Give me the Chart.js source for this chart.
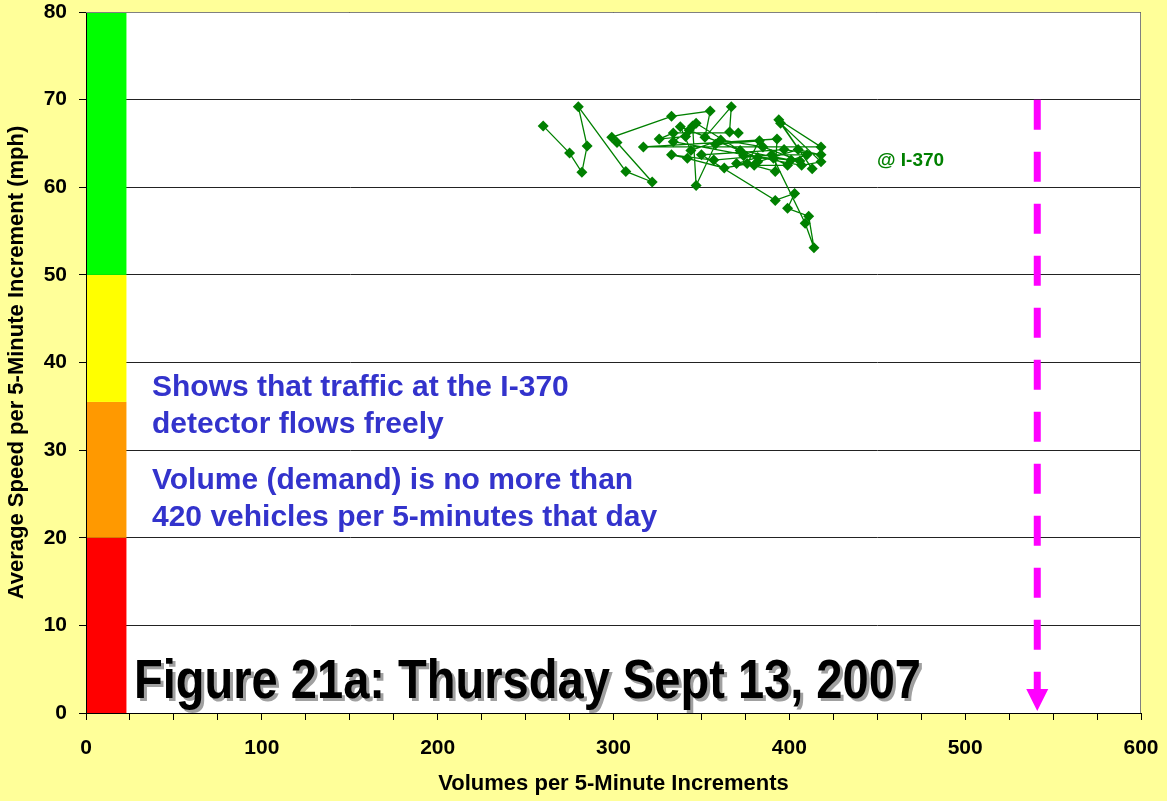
<!DOCTYPE html>
<html>
<head>
<meta charset="utf-8">
<script src="https://cdn.jsdelivr.net/npm/chart.js@4/dist/chart.umd.min.js"></script>
<style>
  html, body { margin:0; padding:0; background:#FFFF99; }
  #wrap { width:1167px; height:801px; position:relative; }
</style>
</head>
<body>
<div id="wrap"><canvas id="chart" width="1167" height="801"></canvas></div>
<script>
// volume / speed readings at the I-370 detector (5-minute increments)
const volumes = [260,275,282,285,280,307,322,302,299,333,355,352,367,366,371,334,326,341,345,347,
  358,383,376,392,393,317,418,394,413,395,418,407,334,343,347,372,401,410,390,357,
  333,342,363,382,405,418,397,350,392,403,399,411,414,409,391,399,380,370,382,338,
  344,361,385,406,374];
const speeds = [67.0,63.9,61.7,64.7,69.2,61.8,60.6,65.1,65.7,68.1,68.7,65.7,69.2,66.3,66.2,66.2,65.5,65.8,67.0,60.2,
  64.9,65.3,62.7,61.8,65.5,64.6,64.6,67.7,62.1,67.3,62.9,62.5,65.2,66.5,67.3,64.2,63.1,63.7,63.7,63.1,
  63.7,63.3,62.2,62.9,64.3,63.7,64.3,63.7,58.5,59.3,57.6,56.7,53.1,55.9,63.3,62.5,62.5,62.7,63.4,66.9,
  64.2,65.4,64.6,63.0,63.6];

// level-of-service bands on the speed axis
const bandLimits = [0, 20, 35.5, 50, 80];
const bandColors = ["#FF0000", "#FF9900", "#FFFF00", "#00FF00"];
const bandWidth = 23;

// capacity marker
const capX = [541, 541];
const capY = [70, 2.6];

const textBlue = "#3333CC";
const fam = "'Liberation Sans', Arial, sans-serif";

const points = volumes.map((v,i)=>({ x:v, y:speeds[i] }));
const capLine = capX.map((v,i)=>({ x:v, y:capY[i] }));

const decor = {
  id: "decor",
  beforeDraw(chart) {
    const { ctx, chartArea:a } = chart;
    ctx.save();
    ctx.fillStyle = "#FFFF99";
    ctx.fillRect(0, 0, chart.width, chart.height);
    ctx.fillStyle = "#FFFFFF";
    ctx.fillRect(a.left, a.top, a.right - a.left, a.bottom - a.top);
    ctx.restore();
  },
  beforeDatasetsDraw(chart) {
    const { ctx } = chart;
    const xs = chart.scales.x, ys = chart.scales.y;
    ctx.save();
    for (let i = 0; i < bandColors.length; i++) {
      const x0 = xs.getPixelForValue(0), x1 = xs.getPixelForValue(bandWidth);
      const y0 = ys.getPixelForValue(bandLimits[i]), y1 = ys.getPixelForValue(bandLimits[i+1]);
      ctx.fillStyle = bandColors[i];
      ctx.fillRect(x0 + 1, y1, x1 - x0 - 1, y0 - y1);
    }
    // plot border (top / right)
    ctx.strokeStyle = "#808080";
    ctx.lineWidth = 1;
    const a = chart.chartArea;
    ctx.beginPath();
    ctx.moveTo(a.left, a.top + 0.5); ctx.lineTo(a.right - 0.5, a.top + 0.5); ctx.lineTo(a.right - 0.5, a.bottom);
    ctx.stroke();
    ctx.restore();
  },
  afterDatasetsDraw(chart) {
    const { ctx } = chart;
    const xs = chart.scales.x, ys = chart.scales.y;
    ctx.save();
    // arrow head
    const ax = xs.getPixelForValue(capX[1]);
    const tip = ys.getPixelForValue(0) - 2;
    ctx.fillStyle = "#FF00FF";
    ctx.beginPath();
    ctx.moveTo(ax - 11, tip - 22); ctx.lineTo(ax + 11, tip - 22); ctx.lineTo(ax, tip);
    ctx.closePath(); ctx.fill();

    // labels
    ctx.fillStyle = "#008000";
    ctx.font = "bold 19px " + fam;
    ctx.textBaseline = "middle";
    ctx.fillText("@ I-370", 877, 161);

    ctx.fillStyle = textBlue;
    ctx.font = "bold 30px " + fam;
    ctx.fillText("Shows that traffic at the I-370", 152, 388);
    ctx.fillText("detector flows freely", 152, 425);
    ctx.fillText("Volume (demand) is no more than", 152, 481);
    ctx.fillText("420 vehicles per 5-minutes that day", 152, 518);

    // figure caption, condensed with drop shadow
    const cap = "Figure 21a: Thursday Sept 13, 2007";
    ctx.font = "bold 56px " + fam;
    ctx.textBaseline = "alphabetic";
    const w = ctx.measureText(cap).width;
    const sx = 787 / w;
    ctx.translate(134, 698);
    ctx.scale(sx, 1);
    ctx.fillStyle = "#A0A0A0";
    ctx.fillText(cap, 3 / sx, 3);
    ctx.fillStyle = "#000000";
    ctx.fillText(cap, 0, 0);
    ctx.restore();
  }
};

const tickFont = { family:fam, size:21, weight:"bold" };
const titleFont = { family:fam, size:22, weight:"bold" };

function noPad(s) {
  s.paddingTop = 0; s.paddingBottom = 0; s.paddingLeft = 0; s.paddingRight = 0;
}

new Chart(document.getElementById("chart"), {
  type: "scatter",
  data: {
    datasets: [
      {
        data: points,
        showLine: true,
        borderColor: "#008000",
        backgroundColor: "#008000",
        borderWidth: 1.3,
        pointStyle: "rectRot",
        pointRadius: 5.5,
        pointBorderWidth: 0
      },
      {
        data: capLine,
        showLine: true,
        borderColor: "#FF00FF",
        borderWidth: 7,
        borderDash: [30, 22],
        pointRadius: 0
      }
    ]
  },
  options: {
    responsive: false,
    animation: false,
    layout: { padding: { top: 12, right: 26, left: 0, bottom: 0 } },
    plugins: { legend: { display:false }, tooltip: { enabled:false } },
    scales: {
      x: {
        type: "linear",
        min: 0, max: 600,
        afterFit: s => { s.height = 88; noPad(s); },
        ticks: {
          stepSize: 25,
          color: "#000",
          font: tickFont,
          padding: 16,
          maxRotation: 0,
          autoSkip: false,
          callback: v => v % 100 === 0 ? String(v) : ""
        },
        grid: { drawOnChartArea:false, color:"#000", tickLength:7, tickColor:"#000" },
        border: { color:"#000", width:1 },
        title: { display:true, text:"Volumes per 5-Minute Increments", color:"#000", font:titleFont, padding:{ top:12 } }
      },
      y: {
        min: 0, max: 80,
        afterFit: s => { s.width = 86; noPad(s); },
        ticks: { stepSize: 10, color:"#000", font:tickFont, padding:12 },
        grid: { color:"#222", tickLength:7, tickColor:"#000" },
        border: { color:"#000", width:1 },
        title: { display:true, text:"Average Speed per 5-Minute Increment (mph)", color:"#000", font:titleFont, padding:{ bottom:2 } }
      }
    }
  },
  plugins: [decor]
});
</script>
</body>
</html>
